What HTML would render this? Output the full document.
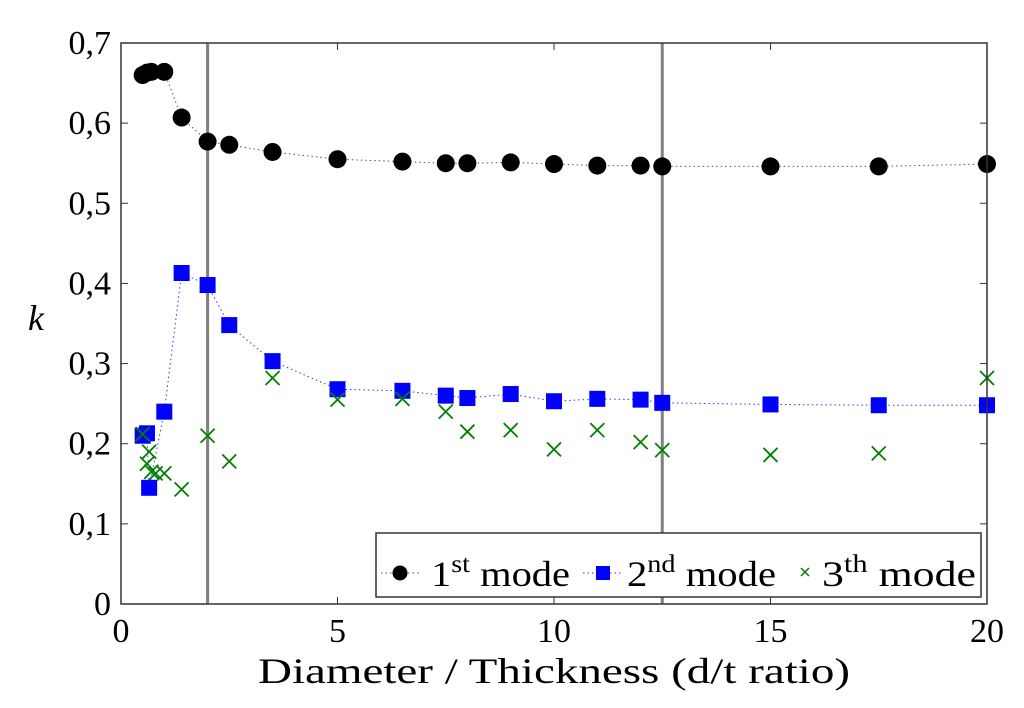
<!DOCTYPE html>
<html><head><meta charset="utf-8"><style>
body{margin:0;background:#fff;}
svg text{font-family:"Liberation Serif",serif;fill:#000;}
</style></head><body>
<svg id="chart" width="1024" height="703" xmlns="http://www.w3.org/2000/svg">
<rect width="1024" height="703" fill="#fff"/>
<g id="grid"></g>
<g id="marks"></g>
<g id="axes"></g>
</svg>
<script>
const xTicks=[0,5,10,15,20];
const yTicks=[0,0.1,0.2,0.3,0.4,0.5,0.6,0.7];
const yTickLabels=["0","0,1","0,2","0,3","0,4","0,5","0,6","0,7"];
const vLines=[2,12.5];
const x1=[0.5,0.6,0.7,1,1.4,2,2.5,3.5,5,6.5,7.5,8,9,10,11,12,12.5,15,17.5,20];
const mode1=[0.66,0.663,0.664,0.664,0.607,0.577,0.573,0.564,0.555,0.552,0.55,0.55,0.551,0.549,0.547,0.547,0.546,0.546,0.546,0.549];
const x2=[0.5,0.6,0.65,1,1.4,2,2.5,3.5,5,6.5,7.5,8,9,10,11,12,12.5,15,17.5,20];
const mode2=[0.21,0.213,0.145,0.24,0.413,0.398,0.348,0.303,0.268,0.266,0.26,0.257,0.262,0.253,0.256,0.255,0.251,0.249,0.248,0.248];
const x3=[0.5,0.6,0.65,0.7,0.8,1,1.4,2,2.5,3.5,5,6.5,7.5,8,9,10,11,12,12.5,15,17.5,20];
const mode3=[0.212,0.175,0.19,0.165,0.163,0.163,0.143,0.21,0.178,0.282,0.255,0.256,0.24,0.215,0.217,0.193,0.217,0.202,0.192,0.186,0.188,0.282];

const L=121,R=987,T=43,B=604;
const sx=v=>L+(R-L)*v/20;
const sy=v=>B-(B-T)*v/0.7;
const NS="http://www.w3.org/2000/svg";
function mk(tag,attrs,parent){const e=document.createElementNS(NS,tag);for(const k in attrs)e.setAttribute(k,attrs[k]);parent.appendChild(e);return e;}
const grid=document.getElementById('grid'),marks=document.getElementById('marks'),axes=document.getElementById('axes');

vLines.forEach(v=>{const l=mk('line',{x1:sx(v),x2:sx(v),y1:T,y2:B,stroke:'#808080','stroke-width':3},grid);

});

function line(xs,ys,color,name){const p=mk('polyline',{points:xs.map((x,i)=>sx(x)+','+sy(ys[i])).join(' '),fill:'none',stroke:color,'stroke-width':1,'stroke-dasharray':'1.5,3'},marks);

}
line(x1,mode1,'#555','mode1-line');
line(x2,mode2,'#33f','mode2-line');

x1.forEach((x,i)=>{const c=mk('circle',{cx:sx(x),cy:sy(mode1[i]),r:9,fill:'#000'},marks);

});
x2.forEach((x,i)=>{const r=mk('rect',{x:sx(x)-8,y:sy(mode2[i])-8,width:16,height:16,fill:'#0000ff'},marks);

});
x3.forEach((x,i)=>{const cx=sx(x),cy=sy(mode3[i]),d=7;
const p=mk('path',{d:`M${cx-d},${cy-d}L${cx+d},${cy+d}M${cx-d},${cy+d}L${cx+d},${cy-d}`,stroke:'#008000','stroke-width':1.8,fill:'none'},marks);

});

const frame=mk('rect',{x:L,y:T,width:R-L,height:B-T,fill:'none',stroke:'#333','stroke-width':1.5},axes);


xTicks.forEach(v=>{mk('line',{x1:sx(v),x2:sx(v),y1:B,y2:B-7,stroke:'#333'},axes);mk('line',{x1:sx(v),x2:sx(v),y1:T,y2:T+7,stroke:'#333'},axes);
const t=mk('text',{x:sx(v),y:B+38,'text-anchor':'middle','font-size':34},axes);t.textContent=v;

});
yTicks.forEach((v,i)=>{mk('line',{x1:L,x2:L+7,y1:sy(v),y2:sy(v),stroke:'#333'},axes);mk('line',{x1:R,x2:R-7,y1:sy(v),y2:sy(v),stroke:'#333'},axes);
const t=mk('text',{x:L-10,y:sy(v)+11,'text-anchor':'end','font-size':34},axes);t.textContent=yTickLabels[i];

});
const xt=mk('text',{x:258,y:683,'font-size':36,textLength:592,lengthAdjust:'spacingAndGlyphs'},axes);xt.textContent='Diameter / Thickness (d/t ratio)';


const yt=mk('text',{x:36,y:330,'font-size':36,'font-style':'italic','text-anchor':'middle'},axes);yt.textContent='k';



// legend
const lg=mk('g',{},axes);


mk('rect',{x:376,y:533,width:605,height:64,fill:'#fff',stroke:'#333','stroke-width':1.5},lg);
mk('line',{x1:381,x2:420,y1:573,y2:573,stroke:'#555','stroke-dasharray':'1.5,3'},lg);
mk('circle',{cx:400,cy:573,r:7.5,fill:'#000'},lg);
mk('line',{x1:583,x2:622,y1:573,y2:573,stroke:'#33f','stroke-dasharray':'1.5,3'},lg);
mk('rect',{x:596,y:566,width:14,height:14,fill:'#0000ff'},lg);
mk('path',{d:'M801,568L809,576M801,576L809,568',stroke:'#008000','stroke-width':1.5},lg);
const labs=[[431,'1','st',139],[627,'2','nd',149],[822,'3','th',154]];
labs.forEach(a=>{const t=mk('text',{x:a[0],y:586,'font-size':36,textLength:a[3],lengthAdjust:'spacingAndGlyphs'},lg);
t.innerHTML=a[1]+'<tspan dy="-14" font-size="25">'+a[2]+'</tspan><tspan dy="14"> mode</tspan>';

});
</script>
</body></html>
